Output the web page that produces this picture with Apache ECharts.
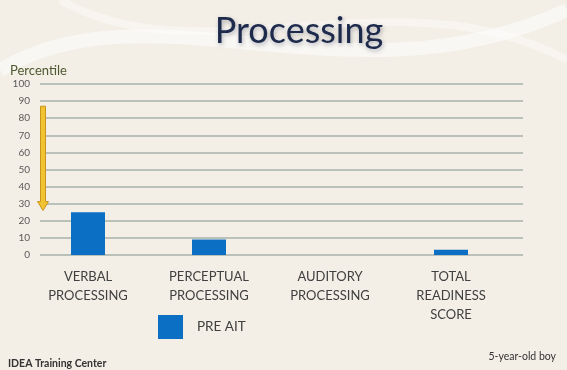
<!DOCTYPE html>
<html>
<head>
<meta charset="utf-8">
<script src="https://cdn.jsdelivr.net/npm/echarts@6/dist/echarts.min.js"></script>
<style>
html,body{margin:0;padding:0;background:#f3eee6;}
#c{width:567px;height:370px;}
</style>
</head>
<body>
<div id="c"></div>
<script>
const categories = ['VERBAL\nPROCESSING', 'PERCEPTUAL\nPROCESSING', 'AUDITORY\nPROCESSING', 'TOTAL\nREADINESS\nSCORE'];
const preAit = [25, 9, 0, 3];
const yTicks = [0, 10, 20, 30, 40, 50, 60, 70, 80, 90, 100];
const arrowFromTo = [87, 26];

const chart = echarts.init(document.getElementById('c'), null, {renderer: 'canvas'});
const FONT = 'Lato, "Open Sans", sans-serif';

const option = {
  backgroundColor: '#f3eee6',
  animation: false,
  title: [
    {text: 'Processing', left: 294, top: 8, textAlign: 'center',
     textStyle: {fontFamily: FONT, fontSize: 36, fontWeight: 'normal', color: '#1d2a4c',
       textShadowColor: 'rgba(40,50,80,0.35)', textShadowBlur: 4, textShadowOffsetX: 1, textShadowOffsetY: 2}},
    {text: 'Percentile', left: 5, top: 59,
     textStyle: {fontFamily: FONT, fontSize: 13, fontWeight: 'normal', color: '#4f5a30'}},
    {text: 'IDEA Training Center', left: 3, top: 353,
     textStyle: {fontFamily: FONT, fontSize: 10.5, fontWeight: 'bold', color: '#333333'}},
    {text: '5-year-old boy', right: 6, top: 346,
     textStyle: {fontFamily: FONT, fontSize: 10.5, fontWeight: 'normal', color: '#333333'}}
  ],
  legend: {
    data: ['PRE AIT'], icon: 'rect', left: 153, top: 310, itemWidth: 25, itemHeight: 24, itemGap: 12,
    textStyle: {fontFamily: FONT, fontSize: 13.5, color: '#404040', padding: [0,0,0,9]}
  },
  grid: [
    {left: 40, right: 44, top: 84, bottom: 115},
    {left: 27.5, right: 55.5, top: 84, bottom: 115}
  ],
  xAxis: [
    {type: 'category', gridIndex: 0, data: categories, show: false},
    {type: 'category', gridIndex: 1, data: categories,
     axisLine: {show: false}, axisTick: {show: false},
     axisLabel: {interval: 0, margin: 12, lineHeight: 19, fontFamily: FONT, fontSize: 13, color: '#404040'}}
  ],
  yAxis: [
    {type: 'value', gridIndex: 0, min: 0, max: 100, interval: 10,
     axisLine: {show: false}, axisTick: {show: false},
     axisLabel: {margin: 10, fontFamily: FONT, fontSize: 10, color: '#5a5a5a'},
     splitLine: {lineStyle: {color: '#a7b0ab', width: 1.5}}},
    {type: 'value', gridIndex: 1, min: 0, max: 100, interval: 10, show: false}
  ],
  series: [
    {name: 'PRE AIT', type: 'bar', xAxisIndex: 1, yAxisIndex: 1, data: preAit, barWidth: 34,
     itemStyle: {color: '#0b6fc4'}, z: 3}
  ]
};
chart.setOption(option);

// decorative arrow, positioned through the y axis scale
const yTop = chart.convertToPixel({yAxisIndex: 0}, arrowFromTo[0]);
const yTip = chart.convertToPixel({yAxisIndex: 0}, arrowFromTo[1]);
const xA = 43;
const headH = 9;
chart.setOption({
  graphic: [
    {type: 'bezierCurve', silent: true, z: -1,
     shape: {x1: 0, y1: 70, x2: 567, y2: 10, cpx1: 150, cpy1: -20, cpx2: 350, cpy2: 110},
     style: {stroke: 'rgba(255,255,255,0.5)', lineWidth: 14, fill: null}},
    {type: 'bezierCurve', silent: true, z: -1,
     shape: {x1: 60, y1: 0, x2: 567, y2: 60, cpx1: 200, cpy1: 80, cpx2: 400, cpy2: -30},
     style: {stroke: 'rgba(255,255,255,0.4)', lineWidth: 8, fill: null}},
    {type: 'polygon', silent: true, z: 10,
     shape: {points: [
       [xA - 2.5, yTop], [xA + 2.5, yTop], [xA + 2.5, yTip - headH], [xA + 5.5, yTip - headH],
       [xA, yTip], [xA - 5.5, yTip - headH], [xA - 2.5, yTip - headH]
     ]},
     style: {fill: '#f1c232', stroke: '#c9961a', lineWidth: 1}}
  ]
});
</script>
</body>
</html>
